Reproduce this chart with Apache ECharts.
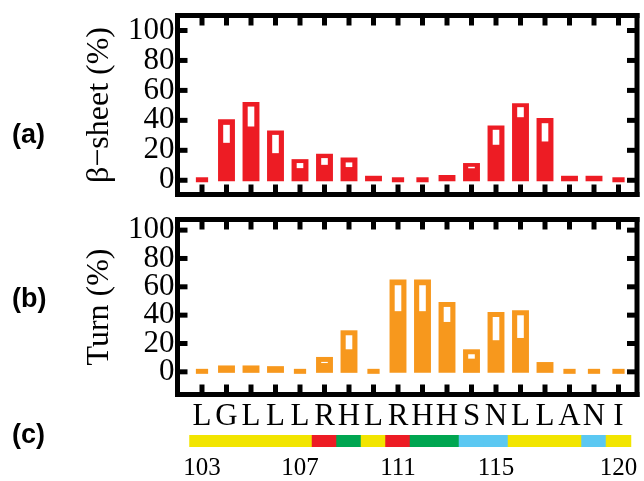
<!DOCTYPE html>
<html><head><meta charset="utf-8">
<script src="https://cdn.jsdelivr.net/npm/echarts@6/dist/echarts.min.js"></script>
<style>html,body{margin:0;padding:0;background:#fff}#c{width:644px;height:481px}</style>
</head><body><div id="c"></div>
<script>
// ---- data ----
const residues = [103,104,105,106,107,108,109,110,111,112,113,114,115,116,117,118,119,120];
const sequence = ['L','G','L','L','L','R','H','L','R','H','H','S','N','L','L','A','N','I'];
// secondary-structure colour class per residue (strip in panel c)
const structure = ['Y','Y','Y','Y','Y','R','G','Y','R','G','G','B','B','Y','Y','Y','B','Y'];
const numberTicks = [103,107,111,115,120];
const yTicks = [0,20,40,60,80,100];
const yLabelsA = [0,40,80];
const yLabelsB = [20,60,100];

const sheetValues  = [0, 40.8, 52.3, 33.2, 14.1, 17.7, 15.2, 3, 0, 0, 3.5, 11.5, 36.5, 51.5, 41.5, 3, 3, 0];
const sheetBoxLow  = [null, 25, 35.9, 18.1, 8.1, 10.3, 8.8, null, null, null, null, 8.0, 23.7, 42.1, 25.9, null, null, null];
const sheetBoxHigh = [null, 37, 49.2, 30.3, 11.5, 14.8, 11.9, null, null, null, null, 9.0, 33.7, 48.8, 38.1, null, null, null];

const turnValues   = [0, 4.5, 4.5, 4, 0, 10.5, 29.3, 0, 65.2, 65.2, 49.3, 15.9, 42.3, 43.5, 6.9, 0, 0, 0];
const turnBoxLow   = [null, null, null, null, null, 6.2, 15.9, null, 42.8, 42.8, 35.2, 9.3, 22.3, 23.9, null, null, null, null];
const turnBoxHigh  = [null, null, null, null, null, 7.0, 25.8, null, 61.1, 61.1, 45.8, 12.4, 38.7, 39.9, null, null, null, null];

// ---- styles ----
const structureColors = {Y:'#F2E500', R:'#ED1C24', G:'#00A651', B:'#5BC8F2'};
const RED = '#ED1C24', ORANGE = '#F7981D';
const SERIF = 'Liberation Serif';
const X_MIN = 102, X_MAX = 120.755;
const Y_RANGE_A = [-9.5, 110], Y_RANGE_B = [-16, 107.5];
const TICK_LEN = 10, TICK_W = 5, FRAME_W = 5;

function barRender(color){
  return function(params, api){
    const x = api.value(0), v = api.value(1), lo = api.value(2), hi = api.value(3);
    const unit = api.size([1,0])[0];
    const p0 = api.coord([x,0]);
    const children = [];
    if (v > 0) {
      const p1 = api.coord([x,v]);
      const w = unit*0.69;
      children.push({type:'rect', shape:{x:p0[0]-w/2, y:p1[1], width:w, height:p0[1]-p1[1]+1}, style:{fill:color}});
    } else {
      const w = unit*0.5;
      children.push({type:'rect', shape:{x:p0[0]-w/2, y:p0[1]-3, width:w, height:5}, style:{fill:color}});
    }
    if (hi > lo) {
      const a = api.coord([x,hi]), b = api.coord([x,lo]);
      const bw = unit*0.27;
      children.push({type:'rect', shape:{x:a[0]-bw/2, y:a[1], width:bw, height:b[1]-a[1]}, style:{fill:'#fff'}});
    }
    return {type:'group', children};
  };
}
// frame + inward ticks, all placed through the axis scales
function frameRender(yRange){
  return function(params, api){
    const x = api.value(0), i = params.dataIndex;
    const blk = {fill:'#000'};
    const children = [];
    const top = api.coord([x, yRange[1]]), bot = api.coord([x, yRange[0]]);
    children.push({type:'rect', shape:{x:top[0]-TICK_W/2, y:top[1], width:TICK_W, height:TICK_LEN}, style:blk});
    children.push({type:'rect', shape:{x:bot[0]-TICK_W/2, y:bot[1]-TICK_LEN, width:TICK_W, height:TICK_LEN}, style:blk});
    if (i < yTicks.length) {
      const l = api.coord([X_MIN, yTicks[i]]), r = api.coord([X_MAX, yTicks[i]]);
      children.push({type:'rect', shape:{x:l[0], y:l[1]-TICK_W/2, width:TICK_LEN, height:TICK_W}, style:blk});
      children.push({type:'rect', shape:{x:r[0]-TICK_LEN, y:r[1]-TICK_W/2, width:TICK_LEN, height:TICK_W}, style:blk});
    }
    if (i === 0) {
      const tl = api.coord([X_MIN, yRange[1]]), br = api.coord([X_MAX, yRange[0]]);
      const h = FRAME_W/2;
      children.push({type:'rect', shape:{x:tl[0]-h, y:tl[1]-h, width:br[0]-tl[0]+FRAME_W, height:FRAME_W}, style:blk});
      children.push({type:'rect', shape:{x:tl[0]-h, y:br[1]-h, width:br[0]-tl[0]+FRAME_W, height:FRAME_W}, style:blk});
      children.push({type:'rect', shape:{x:tl[0]-h, y:tl[1]-h, width:FRAME_W, height:br[1]-tl[1]+FRAME_W}, style:blk});
      children.push({type:'rect', shape:{x:br[0]-h, y:tl[1]-h, width:FRAME_W, height:br[1]-tl[1]+FRAME_W}, style:blk});
    }
    return {type:'group', children};
  };
}
function stripRender(params, api){
  const x = api.value(0);
  const a = api.coord([x-0.5, 1]), b = api.coord([x+0.5, 0]);
  return {type:'rect', shape:{x:a[0]-0.5, y:a[1], width:b[0]-a[0]+1, height:b[1]-a[1]},
          style:{fill: structureColors[structure[params.dataIndex]]}};
}
function rows(vals, lo, hi){
  return residues.map((r,i)=>[r, vals[i], lo[i]==null?0:lo[i], hi[i]==null?0:hi[i]]);
}
function xAx(grid){
  return {type:'value', gridIndex:grid, position:'bottom', min:X_MIN, max:X_MAX,
    axisLine:{show:false, onZero:false}, splitLine:{show:false}, axisLabel:{show:false}, axisTick:{show:false}};
}
function yAx(grid, range, labels, name){
  return {type:'value', gridIndex:grid, position:'left', min:range[0], max:range[1],
    axisLine:{show:false, onZero:false}, splitLine:{show:false}, axisTick:{show:false},
    axisLabel:{customValues:labels, fontFamily:SERIF, fontSize:31, color:'#000', margin:3,
               showMinLabel:true, showMaxLabel:true, hideOverlap:false},
    name:name, nameLocation:'middle', nameRotate:90, nameGap:62,
    nameTextStyle:{fontFamily:SERIF, fontSize:32, color:'#000'}};
}

const chart = echarts.init(document.getElementById('c'), null, {renderer:'canvas'});
chart.setOption({
  animation:false,
  backgroundColor:'#fff',
  grid:[
    {left:177.5, right:7, top:15.5, height:179},
    {left:177.5, right:7, top:219.5, height:175},
    {left:177.5, right:7, top:435, height:13}
  ],
  xAxis:[
    xAx(0), xAx(1),
    {type:'value', gridIndex:2, position:'top', min:X_MIN, max:X_MAX, axisLine:{show:false, onZero:false}, axisTick:{show:false}, splitLine:{show:false},
     axisLabel:{customValues:residues, formatter:v=>sequence[residues.indexOf(Math.round(v))], fontFamily:SERIF, fontSize:31, color:'#000', margin:3}},
    {type:'value', gridIndex:2, position:'bottom', min:X_MIN, max:X_MAX, axisLine:{show:false, onZero:false}, axisTick:{show:false}, splitLine:{show:false},
     axisLabel:{customValues:numberTicks, fontFamily:SERIF, fontSize:25, color:'#000', margin:9}}
  ],
  yAxis:[
    yAx(0,Y_RANGE_A,yLabelsA,'\u03b2\u2212sheet (%)'), yAx(0,Y_RANGE_A,yLabelsB,''),
    yAx(1,Y_RANGE_B,yLabelsA,'Turn (%)'), yAx(1,Y_RANGE_B,yLabelsB,''),
    {type:'value', gridIndex:2, min:0, max:1, show:false}
  ],
  series:[
    {type:'custom', xAxisIndex:0, yAxisIndex:0, renderItem:barRender(RED), data:rows(sheetValues, sheetBoxLow, sheetBoxHigh), clip:false},
    {type:'custom', xAxisIndex:1, yAxisIndex:2, renderItem:barRender(ORANGE), data:rows(turnValues, turnBoxLow, turnBoxHigh), clip:false},
    {type:'custom', xAxisIndex:0, yAxisIndex:0, renderItem:frameRender(Y_RANGE_A), data:residues.map(r=>[r,50]), clip:false, z:30},
    {type:'custom', xAxisIndex:1, yAxisIndex:2, renderItem:frameRender(Y_RANGE_B), data:residues.map(r=>[r,50]), clip:false, z:30},
    {type:'custom', xAxisIndex:2, yAxisIndex:4, renderItem:stripRender, data:residues.map(r=>[r,1]), clip:false}
  ],
  graphic:[
    {type:'text', left:12, top:122, style:{text:'(a)', font:'bold 27px "Liberation Sans"', fill:'#000'}},
    {type:'text', left:12, top:286, style:{text:'(b)', font:'bold 27px "Liberation Sans"', fill:'#000'}},
    {type:'text', left:12, top:422, style:{text:'(c)', font:'bold 27px "Liberation Sans"', fill:'#000'}}
  ]
});
</script></body></html>
